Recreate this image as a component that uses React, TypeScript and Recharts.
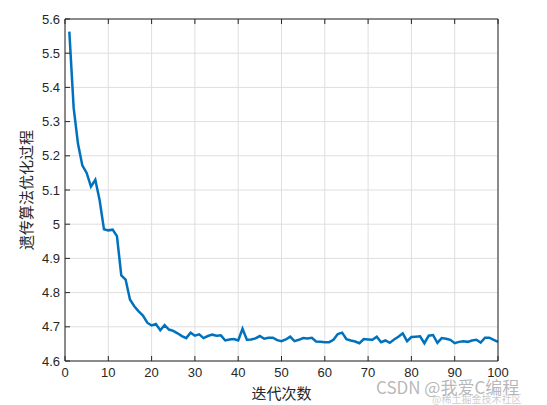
import React from 'react';
import { LineChart, Line, XAxis, YAxis, CartesianGrid } from 'recharts';

// best fitness per generation
const fitness = [
  5.563, 5.34, 5.235, 5.172, 5.15, 5.11, 5.13, 5.07, 4.985, 4.982,
  4.984, 4.965, 4.85, 4.838, 4.78, 4.76, 4.745, 4.733, 4.712, 4.704,
  4.708, 4.69, 4.705, 4.692, 4.688, 4.681, 4.673, 4.667, 4.683, 4.674,
  4.678, 4.667, 4.673, 4.677, 4.674, 4.675, 4.66, 4.663, 4.664, 4.66,
  4.694, 4.662, 4.663, 4.666, 4.673, 4.665, 4.668, 4.668, 4.661, 4.658,
  4.663, 4.671, 4.658, 4.662, 4.667, 4.666, 4.668, 4.657, 4.656, 4.655,
  4.655, 4.662, 4.679, 4.683, 4.664, 4.66, 4.657, 4.652, 4.664, 4.663,
  4.662, 4.671, 4.655, 4.66, 4.653, 4.663, 4.671, 4.681, 4.658, 4.67,
  4.671, 4.672, 4.652, 4.674, 4.676, 4.653, 4.667, 4.665, 4.662, 4.652,
  4.656, 4.658, 4.656, 4.66, 4.662, 4.654, 4.668, 4.668, 4.662, 4.656,
];
const xTicks = [0, 10, 20, 30, 40, 50, 60, 70, 80, 90, 100];
const yTicks = [4.6, 4.7, 4.8, 4.9, 5, 5.1, 5.2, 5.3, 5.4, 5.5, 5.6];

const data = fitness.map((v, i) => ({ iter: i + 1, value: v }));

const axisColor = '#262626';
const tickFont = { fill: axisColor, fontSize: 13, fontFamily: 'Liberation Sans, Arial, sans-serif' };
const cjkFont = '"Noto Sans CJK SC", sans-serif';

export default function App() {
  return (
    <div style={{ position: 'relative', width: 547, height: 405, background: '#fff' }}>
      <style>{`body{margin:0}`}</style>
      <LineChart width={547} height={405} data={data} margin={{ top: 18, right: 48, bottom: 0, left: 20 }}>
        <CartesianGrid xAxisId="b" yAxisId="l" stroke="#dfdfdf" strokeWidth={1} horizontalValues={yTicks} verticalValues={xTicks} />
        <XAxis
          xAxisId="b"
          dataKey="iter"
          type="number"
          domain={[0, 100]}
          ticks={xTicks}
          height={44}
          tickSize={-5}
          tickMargin={12}
          tick={tickFont}
          stroke={axisColor}
          label={{
            content: ({ viewBox }: any) => (
              <text x={viewBox.x + viewBox.width / 2} y={viewBox.y + 34} textAnchor="middle" dominantBaseline="middle" fill={axisColor} fontSize={15} fontFamily={cjkFont}>迭代次数</text>
            ),
          }}
        />
        <XAxis xAxisId="t" orientation="top" dataKey="iter" type="number" domain={[0, 100]} ticks={xTicks} height={1} tickSize={-5} tickMargin={0} tickFormatter={() => ''} stroke={axisColor} />
        <YAxis
          yAxisId="l"
          type="number"
          domain={[4.6, 5.6]}
          ticks={yTicks}
          width={45}
          tickSize={-5}
          tickMargin={10}
          tick={tickFont}
          stroke={axisColor}
          label={{
            content: ({ viewBox }: any) => {
              const cx = viewBox.x + 8;
              const cy = viewBox.y + viewBox.height / 2;
              return (
                <text x={cx} y={cy} transform={`rotate(-90 ${cx} ${cy})`} textAnchor="middle" dominantBaseline="middle" fill={axisColor} fontSize={15} fontFamily={cjkFont}>遗传算法优化过程</text>
              );
            },
          }}
        />
        <YAxis yAxisId="r" orientation="right" type="number" domain={[4.6, 5.6]} ticks={yTicks} width={1} tickSize={-5} tickMargin={0} tickFormatter={() => ''} stroke={axisColor} />
        <Line
          xAxisId="b"
          yAxisId="l"
          type="linear"
          dataKey="value"
          stroke="#0072BD"
          strokeWidth={2.5}
          dot={false}
          isAnimationActive={false}
        />
      </LineChart>
      <div style={{ position: 'absolute', left: 376, top: 374, fontSize: 17, color: 'rgba(160,160,160,0.75)', fontFamily: cjkFont, whiteSpace: 'nowrap' }}>CSDN @我爱C编程</div>
      <div style={{ position: 'absolute', left: 432, top: 391, fontSize: 10, color: 'rgba(170,170,170,0.6)', fontFamily: cjkFont, whiteSpace: 'nowrap' }}>@稀土掘金技术社区</div>
    </div>
  );
}
